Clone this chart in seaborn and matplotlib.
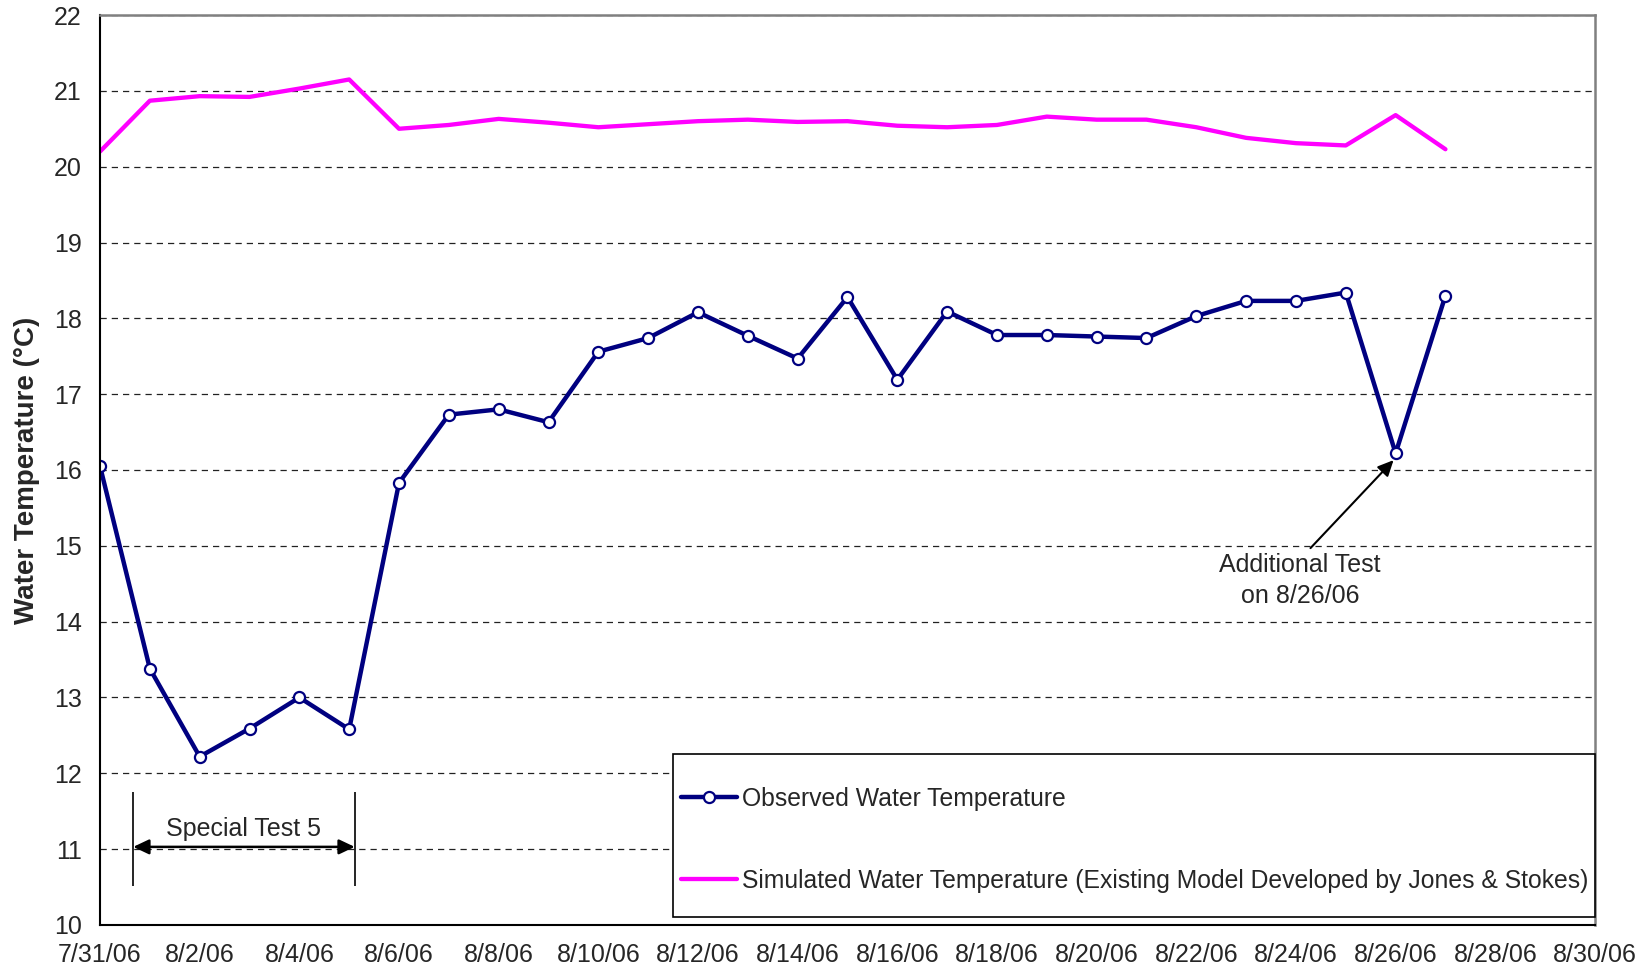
import matplotlib
matplotlib.use('Agg')
import matplotlib.pyplot as plt
import matplotlib.dates as mdates
from matplotlib.patches import Rectangle
from matplotlib.ticker import FuncFormatter
import seaborn as sns
import pandas as pd

# daily values, 7/31/06 .. 8/27/06
dates = pd.date_range('2006-07-31', '2006-08-27', freq='D')
observed = [16.05, 13.38, 12.22, 12.59, 13.00, 12.58, 15.83, 16.73, 16.80, 16.63,
            17.56, 17.74, 18.08, 17.77, 17.47, 18.28, 17.19, 18.09, 17.78, 17.78,
            17.76, 17.74, 18.03, 18.23, 18.23, 18.34, 16.22, 18.30]
simulated = [20.20, 20.87, 20.93, 20.92, 21.03, 21.15, 20.50, 20.55, 20.63, 20.58,
             20.52, 20.56, 20.60, 20.62, 20.59, 20.60, 20.54, 20.52, 20.55, 20.66,
             20.62, 20.62, 20.52, 20.38, 20.31, 20.28, 20.68, 20.23]
obs_label = 'Observed Water Temperature'
sim_label = 'Simulated Water Temperature (Existing Model Developed by Jones & Stokes)'
xticks = pd.date_range('2006-07-31', '2006-08-30', freq='2D')
yticks = list(range(10, 23))

sns.set_style('white')
plt.rcParams['font.family'] = ['Liberation Sans', 'DejaVu Sans']

fig = plt.figure(figsize=(16.48, 9.75), dpi=100)
ax = fig.add_axes([0.0607, 0.0513, 0.9071, 0.9333])

sns.lineplot(x=dates, y=simulated, ax=ax, color='#FF00FF', lw=3.1, label=sim_label)
sns.lineplot(x=dates, y=observed, ax=ax, color='#000080', lw=3.2, marker='o',
             markersize=8, markerfacecolor='white', markeredgecolor='#000080',
             markeredgewidth=1.6, label=obs_label)

ax.set_xlim(pd.Timestamp('2006-07-31'), pd.Timestamp('2006-08-30'))
ax.set_ylim(10, 22)
ax.set_xticks(xticks)
ax.set_yticks(yticks)
ax.xaxis.set_major_formatter(FuncFormatter(
    lambda v, p: (lambda d: f"{d.month}/{d.day}/{d:%y}")(mdates.num2date(v))))
ax.tick_params(axis='both', direction='out', length=6, width=1.2, color='black',
               labelsize=18, pad=7)
ax.yaxis.grid(True, linestyle=(0, (5, 4)), color='#222222', lw=0.9)
ax.xaxis.grid(False)
for s in ['left', 'bottom']:
    ax.spines[s].set_color('black')
    ax.spines[s].set_linewidth(1.5)
for s in ['top', 'right']:
    ax.spines[s].set_color('#808080')
    ax.spines[s].set_linewidth(1.8)

ax.set_xlabel('')
ax.set_ylabel('Water Temperature (°C)', fontsize=20, fontweight='bold', labelpad=10)

# Special Test 5 bracket
t5_start = pd.Timestamp('2006-07-31 16:00')
t5_end = pd.Timestamp('2006-08-05 02:40')
ax.vlines([t5_start, t5_end], 10.52, 11.76, color='black', lw=1.2)
ax.annotate('', xy=(t5_start, 11.03), xytext=(t5_end, 11.03),
            arrowprops=dict(arrowstyle='<|-|>,head_length=0.95,head_width=0.45',
                            color='black', lw=1.8, shrinkA=0, shrinkB=0))
ax.text(pd.Timestamp('2006-08-02 21:00'), 11.27, 'Special Test 5', fontsize=18,
        ha='center', va='center')

# additional test note
ax.annotate('', xy=(pd.Timestamp('2006-08-25 23:00'), 16.13),
            xytext=(pd.Timestamp('2006-08-24 07:00'), 14.97),
            arrowprops=dict(arrowstyle='-|>,head_length=0.95,head_width=0.45',
                            color='black', lw=1.5, shrinkA=0, shrinkB=0))
ax.text(pd.Timestamp('2006-08-24 02:00'), 14.54, 'Additional Test\non 8/26/06',
        fontsize=18, ha='center', va='center', linespacing=1.34)

# legend box
ax.add_patch(Rectangle((0.383, 0.0088), 0.617, 0.179, transform=ax.transAxes,
                       facecolor='white', edgecolor='black', lw=1.2,
                       zorder=4, clip_on=False))
handles, labels = ax.get_legend_handles_labels()
leg = ax.legend(handles[::-1], labels[::-1], loc='upper left',
                bbox_to_anchor=(0.3886, 0.1516), frameon=False, fontsize=17.8,
                borderpad=0, borderaxespad=0, handlelength=2.25,
                handletextpad=0.2, labelspacing=2.33)
leg.set_zorder(5)

fig.savefig('out.png', dpi=100)
